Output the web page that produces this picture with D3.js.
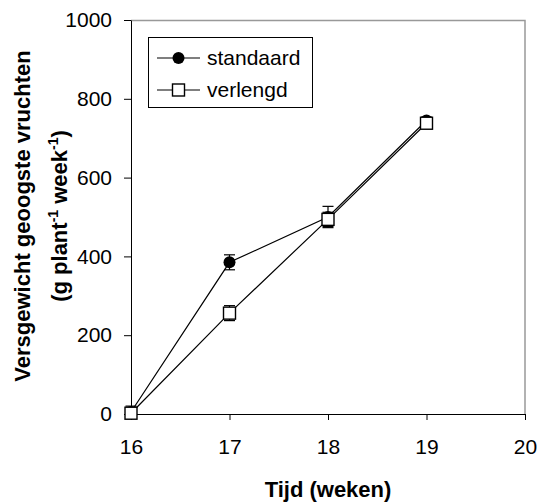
<!DOCTYPE html>
<html>
<head>
<meta charset="utf-8">
<script src="https://cdn.jsdelivr.net/npm/d3@7"></script>
<style>
  body { margin: 0; background: #fff; }
  text { font-family: "Liberation Sans", Arial, sans-serif; }
</style>
</head>
<body>
<svg id="chart" width="539" height="502"></svg>
<script>
// data
const weeks = [16, 17, 18, 19];
const standaard = [5, 385, 500, 745];
const standaardErr = [15, 19, 27, 8];
const verlengd = [2, 256, 494, 738];
const verlengdErr = [12, 19, 18, 8];
const xTicks = [16, 17, 18, 19, 20];
const yTicks = [0, 200, 400, 600, 800, 1000];

const svg = d3.select("#chart");
const margin = { top: 20, right: 14, bottom: 88, left: 131 };
const width = 539 - margin.left - margin.right;
const height = 502 - margin.top - margin.bottom;
const g = svg.append("g").attr("transform", `translate(${margin.left},${margin.top})`);

const x = d3.scaleLinear().domain([16, 20]).range([0, width]);
const y = d3.scaleLinear().domain([0, 1000]).range([height, 0]);

// grey frame top / right
g.append("path")
  .attr("d", `M0,0.5H${width}V${height}`)
  .attr("fill", "none")
  .attr("stroke", "#999")
  .attr("stroke-width", 1.5);

const xAxis = g.append("g")
  .attr("transform", `translate(0,${height})`)
  .call(d3.axisBottom(x).tickValues(xTicks).tickFormat(d3.format("d"))
    .tickSize(6).tickPadding(19).tickSizeOuter(0));
const yAxis = g.append("g")
  .call(d3.axisLeft(y).tickValues(yTicks).tickFormat(d3.format("d"))
    .tickSize(7).tickPadding(12).tickSizeOuter(0));

[xAxis, yAxis].forEach(a => {
  a.selectAll("text").attr("font-size", "21px").attr("fill", "#000")
    .style("font-family", "'Liberation Sans', Arial, sans-serif");
  a.selectAll("line, path").attr("stroke", "#000");
});

function drawSeries(vals, errs, filled) {
  const pts = weeks.map((w, i) => ({ w, v: vals[i], e: errs[i] }));
  g.append("path")
    .datum(pts)
    .attr("fill", "none")
    .attr("stroke", "#000")
    .attr("stroke-width", 1.2)
    .attr("d", d3.line().x(d => x(d.w)).y(d => y(d.v)));

  const eb = g.append("g").attr("stroke", "#000").attr("stroke-width", 1.2);
  pts.forEach(d => {
    eb.append("line").attr("x1", x(d.w)).attr("x2", x(d.w))
      .attr("y1", y(d.v - d.e)).attr("y2", y(d.v + d.e));
    [d.v - d.e, d.v + d.e].forEach(c => {
      eb.append("line").attr("x1", x(d.w) - 5.5).attr("x2", x(d.w) + 5.5)
        .attr("y1", y(c)).attr("y2", y(c));
    });
  });

  if (filled) {
    g.selectAll(".dot")
      .data(pts)
      .join("circle")
      .attr("class", "dot")
      .attr("cx", d => x(d.w))
      .attr("cy", d => y(d.v))
      .attr("r", 6)
      .attr("fill", "#000");
  } else {
    g.selectAll(".sq")
      .data(pts)
      .join("rect")
      .attr("class", "sq")
      .attr("x", d => x(d.w) - 6)
      .attr("y", d => y(d.v) - 6)
      .attr("width", 12)
      .attr("height", 12)
      .attr("fill", "#fff")
      .attr("stroke", "#000")
      .attr("stroke-width", 1.4);
  }
}
drawSeries(standaard, standaardErr, true);
drawSeries(verlengd, verlengdErr, false);

// legend
const lg = svg.append("g");
lg.append("rect")
  .attr("x", 148.5).attr("y", 37.5).attr("width", 164).attr("height", 70)
  .attr("fill", "#fff").attr("stroke", "#000").attr("stroke-width", 1);
[["standaard", 58, true], ["verlengd", 90, false]].forEach(([name, ly, filled]) => {
  lg.append("line").attr("x1", 157).attr("x2", 200).attr("y1", ly).attr("y2", ly)
    .attr("stroke", "#000").attr("stroke-width", 1.2);
  if (filled) {
    lg.append("circle").attr("cx", 178.5).attr("cy", ly).attr("r", 6).attr("fill", "#000");
  } else {
    lg.append("rect").attr("x", 172.5).attr("y", ly - 6).attr("width", 12).attr("height", 12)
      .attr("fill", "#fff").attr("stroke", "#000").attr("stroke-width", 1.4);
  }
  lg.append("text").attr("x", 207).attr("y", ly).attr("dy", "0.35em")
    .attr("font-size", "21px").text(name);
});

// axis titles
svg.append("text")
  .attr("x", 328).attr("y", 497)
  .attr("text-anchor", "middle")
  .attr("font-size", "22px").attr("font-weight", "bold")
  .text("Tijd (weken)");

const yt = svg.append("text")
  .attr("transform", "translate(30,216) rotate(-90)")
  .attr("text-anchor", "middle")
  .attr("font-size", "22px").attr("font-weight", "bold");
yt.append("tspan").attr("x", 0).attr("y", 0).text("Versgewicht geoogste vruchten");
const l2 = yt.append("tspan").attr("x", 0).attr("y", 37);
l2.append("tspan").text("(g plant");
l2.append("tspan").attr("dy", -9).attr("font-size", "14px").text("-1");
l2.append("tspan").attr("dy", 9).text(" week");
l2.append("tspan").attr("dy", -9).attr("font-size", "14px").text("-1");
l2.append("tspan").attr("dy", 9).text(")");
</script>
</body>
</html>
